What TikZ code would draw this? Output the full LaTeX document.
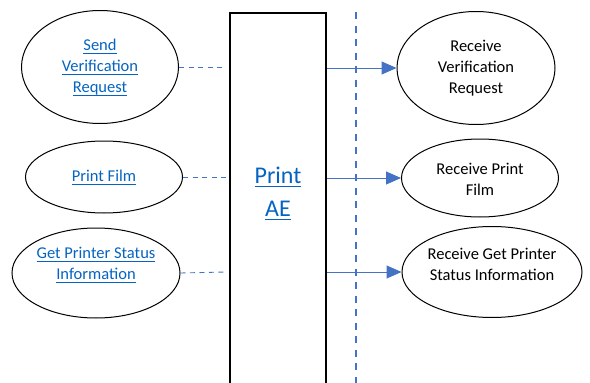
\documentclass[tikz,border=0pt]{standalone}
\usepackage{fontspec}
\setmainfont{Carlito}
\usetikzlibrary{shapes.geometric,arrows.meta}
\definecolor{linkblue}{HTML}{0563C1}
\definecolor{lineblue}{HTML}{4472C4}
\newcommand{\lnk}[1]{\underline{\raisebox{0pt}[\height][1.2pt]{#1}}}
\tikzset{
  oval/.style={draw, ellipse, line width=1pt, inner sep=0pt, align=center,
    font=\fontsize{16.5}{21}\selectfont},
  linktext/.style={text=linkblue, align=center, font=\fontsize{16.5}{21}\selectfont},
  call/.style={lineblue, dash pattern=on 5pt off 4.5pt, line width=0.9pt},
  send/.style={lineblue, line width=1pt, -{Triangle[length=15pt,width=13pt]}}
}
\begin{document}
\begin{tikzpicture}[x=1pt,y=-1pt]
    \clip (0,0) rectangle (590,383);
    % left side
    \node[oval, minimum width=157, minimum height=113, text=linkblue] (svr) at (100,67)
      {\lnk{Send}\\\lnk{Verification}\\\lnk{Request}};
    \node[oval, minimum width=157, minimum height=72, text=linkblue] (pf) at (104,177)
      {\lnk{Print Film}};
    \node[oval, minimum width=168, minimum height=90] (gps) at (96,273) {};
    \node[linktext] (gpst) at (96,265) {\lnk{Get Printer Status}\\\lnk{Information}};
    % print AE
    \node[draw, line width=1.6pt, minimum width=96, minimum height=420, anchor=north] (ae) at (278,12) {};
    \node[text=linkblue, align=center, font=\fontsize{24}{33}\selectfont] (aet) at (278,193)
      {\lnk{Print}\\\lnk{AE}};
    \coordinate (top) at (356,12);
    \coordinate (bot) at (356,400);
    % right side
    \node[oval, minimum width=158, minimum height=113] (rvr) at (476,68)
      {Receive\\Verification\\Request};
    \node[oval, minimum width=157, minimum height=78] (rpf) at (480,178) {};
    \node[align=center, font=\fontsize{16.5}{21}\selectfont] (rpft) at (480,179) {Receive Print\\Film};
    \node[oval, minimum width=180, minimum height=91] (rgps) at (492,272) {};
    \node[align=center, font=\fontsize{16.5}{21}\selectfont] (rgpst) at (492,264)
      {Receive Get Printer\\Status Information};
    \coordinate (c1) at (225,67);
    \coordinate (c2) at (228,177);
    \coordinate (c3) at (225,272);
    \draw[call] (svr.east) -- (c1);
    \draw[call] (pf.east) -- (c2);
    \draw[call] (gps.east) -- (c3);
    \draw[send] (ae.east |- rvr) -- (rvr.west);
    \draw[send] (ae.east |- rpf) -- (rpf.west);
    \draw[send] (ae.east |- rgps) -- (rgps.west);
    \draw[lineblue, line width=1.6pt, dash pattern=on 7pt off 6.5pt] (top) -- (bot);
  \end{tikzpicture}
\end{document}
